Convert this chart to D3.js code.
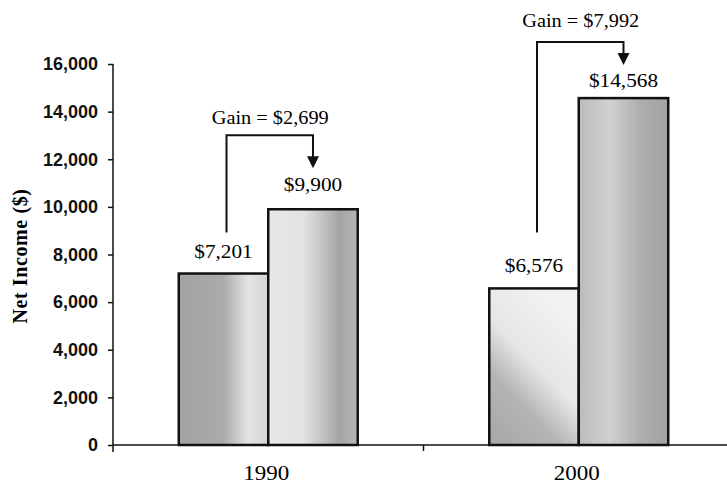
<!DOCTYPE html>
<html>
<head>
<meta charset="utf-8">
<script src="https://cdn.jsdelivr.net/npm/d3@7"></script>
<style>
  body { margin: 0; background: #fff; }
  svg { display: block; font-family: "Liberation Serif", "Times New Roman", serif; }
  .axis path, .axis line { stroke: #111; stroke-width: 1.5; }
  .axis text { font-size: 18px; font-weight: bold; fill: #111; }
</style>
</head>
<body>
<svg id="chart" width="727" height="484"></svg>
<script>
// chart values
var years = ['1990', '2000'];
var series = ['before', 'after'];
var income1 = [7201, 6576];    // first bar of each group
var income2 = [9900, 14568];   // second bar of each group
var gains = [2699, 7992];
var yTicks = [0, 2000, 4000, 6000, 8000, 10000, 12000, 14000, 16000];

var svg = d3.select('#chart');
var W = 727, H = 484;
var margin = {left: 113, top: 64, bottom: 445};

var y = d3.scaleLinear().domain([0, 16000]).range([margin.bottom, margin.top]);
var x0 = d3.scaleBand().domain(years).range([margin.left, 734]).padding(0);
var x1 = d3.scaleBand().domain(series).range([0, x0.bandwidth()])
    .paddingInner(0).paddingOuter(0.735);

// the scanned type is a bit wider than the font, so stretch it sideways
function label(sel, x, yy, txt, size, sx) {
    return sel.append('g').attr('transform', 'translate(' + x + ',' + yy + ') scale(' + sx + ',1)')
        .append('text').attr('text-anchor', 'middle').attr('font-size', size).text(txt);
}

// gradients to imitate the scanned grey fills
var defs = svg.append('defs');
var grads = [
    {id: 'g0', x1: 0, y1: 0, x2: 1, y2: 0, stops: [[0, '#a2a2a2'], [0.5, '#ababab'], [0.78, '#e4e4e4'], [1, '#d4d4d4']]},
    {id: 'g1', x1: 0, y1: 0, x2: 1, y2: 0, stops: [[0, '#e8e8e8'], [0.4, '#e2e2e2'], [0.8, '#a4a4a4'], [1, '#b6b6b6']]},
    {id: 'g2', x1: 0, y1: 1, x2: 0.6, y2: 0, stops: [[0, '#a6a6a6'], [0.35, '#b4b4b4'], [0.6, '#e6e6e6'], [1, '#f2f2f2']]},
    {id: 'g3', x1: 0, y1: 0, x2: 1, y2: 0, stops: [[0, '#bcbcbc'], [0.35, '#d0d0d0'], [0.7, '#adadad'], [1, '#a2a2a2']]}
];
grads.forEach(function(g) {
    var lg = defs.append('linearGradient').attr('id', g.id)
        .attr('x1', g.x1).attr('y1', g.y1).attr('x2', g.x2).attr('y2', g.y2);
    g.stops.forEach(function(s) {
        lg.append('stop').attr('offset', s[0]).attr('stop-color', s[1]);
    });
});

// y axis
var yAxis = svg.append('g').attr('class', 'axis')
    .attr('transform', 'translate(' + margin.left + ',0)')
    .call(d3.axisLeft(y).tickValues(yTicks).tickSize(5).tickPadding(10).tickSizeOuter(0)
        .tickFormat(d3.format(',')));
yAxis.select('.domain').attr('d', 'M0,' + margin.top + 'V' + (margin.bottom + 7));

// x axis baseline with centre tick
svg.append('line').attr('x1', margin.left).attr('x2', W)
    .attr('y1', margin.bottom).attr('y2', margin.bottom)
    .attr('stroke', '#111').attr('stroke-width', 1.5);
svg.append('line').attr('x1', x0('2000')).attr('x2', x0('2000'))
    .attr('y1', margin.bottom).attr('y2', margin.bottom + 6)
    .attr('stroke', '#111').attr('stroke-width', 1.5);

years.forEach(function(d) {
    label(svg, x0(d) + x0.bandwidth() / 2 - 2, 480, d, 20, 1.15);
});

// y title
svg.append('text')
    .attr('transform', 'translate(27,256) rotate(-90)')
    .attr('text-anchor', 'middle')
    .attr('font-size', 20).attr('font-weight', 'bold')
    .attr('letter-spacing', 0.6)
    .text('Net Income ($)');

// bars
var rows = years.map(function(yr, i) {
    return {year: yr, i: i, vals: [income1[i], income2[i]]};
});
var groups = svg.selectAll('.grp').data(rows).enter().append('g')
    .attr('class', 'grp')
    .attr('transform', function(d) { return 'translate(' + x0(d.year) + ',0)'; });

groups.selectAll('rect').data(function(d) {
    return d.vals.map(function(v, j) { return {k: series[j], v: v, g: 'g' + (d.i * 2 + j)}; });
}).enter().append('rect')
    .attr('x', function(d) { return x1(d.k); })
    .attr('y', function(d) { return y(d.v); })
    .attr('width', x1.bandwidth())
    .attr('height', function(d) { return y(0) - y(d.v); })
    .attr('fill', function(d) { return 'url(#' + d.g + ')'; })
    .attr('stroke', '#111').attr('stroke-width', 2.5);

// annotation spacing above the bars (pixels)
var lift = [
    {lab1: 16, lab2: 18, stem: 41, tip: 41, top: 74, text: 85},
    {lab1: 16, lab2: 11, stem: 56, tip: 33, top: 56, text: 71}
];
var fmt = d3.format('$,');

rows.forEach(function(d) {
    var g = svg.append('g').attr('transform', 'translate(' + x0(d.year) + ',0)');
    var c1 = x1('before') + x1.bandwidth() / 2;
    var c2 = x1('after') + x1.bandwidth() / 2;
    var L = lift[d.i];
    label(g, c1, y(income1[d.i]) - L.lab1, fmt(income1[d.i]), 19, 1.12);
    label(g, c2, y(income2[d.i]) - L.lab2, fmt(income2[d.i]), 19, 1.12);

    var top = y(income2[d.i]) - L.top;
    var tip = y(income2[d.i]) - L.tip;
    var stemY = y(income1[d.i]) - L.stem;
    g.append('path')
        .attr('d', 'M' + (c1 + 3) + ',' + stemY + 'V' + top + 'H' + c2 + 'V' + (tip - 11))
        .attr('fill', 'none').attr('stroke', '#111').attr('stroke-width', 2);
    g.append('path')
        .attr('d', 'M' + (c2 - 6) + ',' + (tip - 12) + 'L' + (c2 + 6) + ',' + (tip - 12) + 'L' + c2 + ',' + tip + 'Z')
        .attr('fill', '#111');
    label(g, (c1 + c2) / 2 + 2, y(income2[d.i]) - L.text, 'Gain = ' + fmt(gains[d.i]), 18, 1.13);
});
</script>
</body>
</html>
